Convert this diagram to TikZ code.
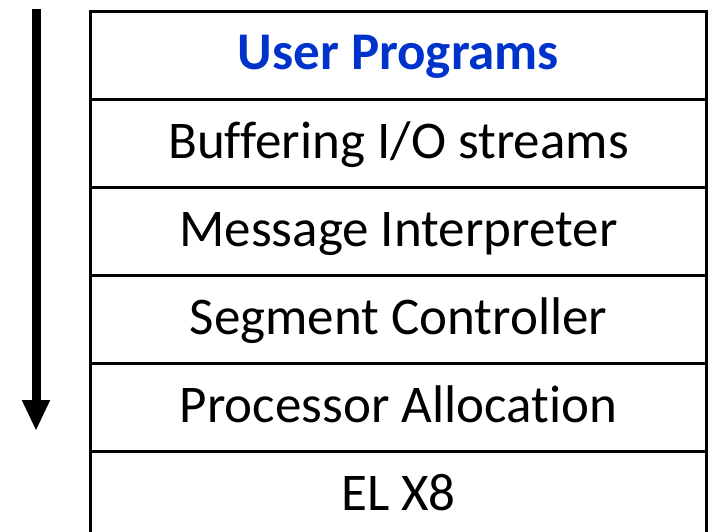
\documentclass[tikz,border=0pt]{standalone}
\usepackage{fontspec}
\setmainfont{Carlito}[Ligatures={NoCommon}]
\usetikzlibrary{arrows.meta}
\definecolor{titleblue}{RGB}{0,51,204}
\begin{document}
\begin{tikzpicture}[x=1pt,y=-1pt,
  layer/.style={draw=black,line width=3pt,minimum width=616pt,minimum height=88pt,inner sep=0pt,anchor=north west,text height=33pt,text depth=4pt,font=\fontsize{53}{60}\selectfont},
  flow/.style={line width=9pt,-{Triangle[width=26pt,length=31pt]}}]
\useasboundingbox (0,0) rectangle (709,532);
\begin{scope}
\clip (0,0) rectangle (709,532);
\node[layer,font=\fontsize{53}{60}\selectfont\bfseries,text=titleblue] (l1) at (89,10) {User Programs};
\node[layer] (l2) at (89,98) {Buffering I/O streams};
\node[layer] (l3) at (89,186) {Message Interpreter};
\node[layer] (l4) at (89,274) {Segment Controller};
\node[layer] (l5) at (89,362) {Processor Allocation};
\node[layer] (l6) at (89,450) {EL X8};
\end{scope}
\coordinate (top) at (36,9);
\coordinate (tip) at (36,431);
\draw[flow] (top) -- (tip);
\end{tikzpicture}
\end{document}
